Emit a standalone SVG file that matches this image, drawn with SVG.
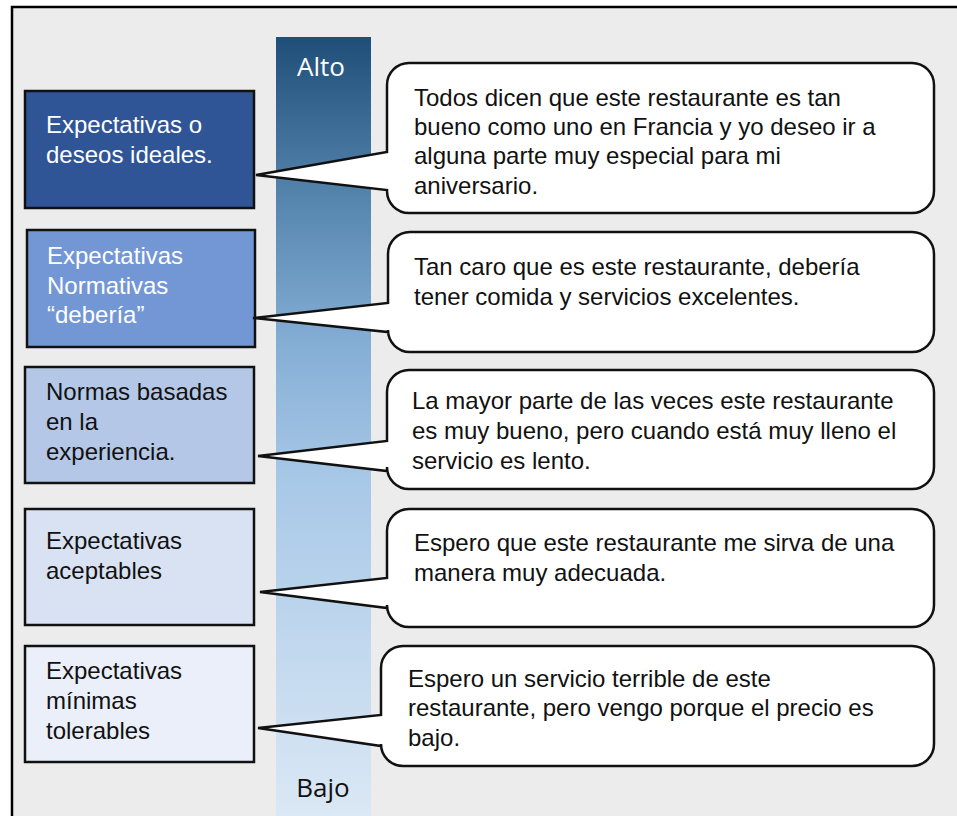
<svg xmlns="http://www.w3.org/2000/svg" width="957" height="816" viewBox="0 0 957 816">
<defs>
<linearGradient id="bar" x1="0" y1="0" x2="0" y2="1">
<stop offset="0" stop-color="#1f4e79"/>
<stop offset="0.21" stop-color="#5686ae"/>
<stop offset="0.4" stop-color="#86afd6"/>
<stop offset="0.57" stop-color="#a8c8e7"/>
<stop offset="1" stop-color="#dbe8f5"/>
</linearGradient>
<style>
.box{stroke:#111;stroke-width:2.5}
.call{fill:#fff;stroke:#111;stroke-width:2.5;stroke-linejoin:miter}
.t{font-family:"Liberation Sans",Arial,sans-serif;font-size:24px}
.w{fill:#fff}
.k{fill:#111}
.lvl{font-family:"Open Sans","Noto Sans",sans-serif;font-size:26px;text-anchor:middle;fill:#111}
</style>
</defs>
<rect x="12" y="7" width="960" height="830" fill="#ececec" stroke="#000" stroke-width="2.5"/>
<g id="scale">
<rect x="276" y="37" width="95" height="779" fill="url(#bar)"/>
<text class="lvl" x="321" y="76" style="fill:#fff">Alto</text>
<text class="lvl" x="323" y="797">Bajo</text>
</g>
<g id="n1"><rect class="box" x="25" y="91" width="229" height="117" fill="#2f5597"/>
<text class="t w"><tspan x="46" y="133">Expectativas o</tspan><tspan x="46" y="163">deseos ideales.</tspan></text></g>
<g id="n2"><rect class="box" x="27" y="230" width="228" height="117" fill="#7396d4"/>
<text class="t w"><tspan x="47" y="264">Expectativas</tspan><tspan x="47" y="294">Normativas</tspan><tspan x="47" y="323">“debería”</tspan></text></g>
<g id="n3"><rect class="box" x="25" y="367" width="229" height="116" fill="#b4c7e7"/>
<text class="t k"><tspan x="46" y="400">Normas basadas</tspan><tspan x="46" y="430">en la</tspan><tspan x="46" y="460">experiencia.</tspan></text></g>
<g id="n4"><rect class="box" x="25" y="509" width="229" height="116" fill="#d9e2f3"/>
<text class="t k"><tspan x="46" y="549">Expectativas</tspan><tspan x="46" y="579">aceptables</tspan></text></g>
<g id="n5"><rect class="box" x="25" y="646" width="229" height="116" fill="#eaeff9"/>
<text class="t k"><tspan x="46" y="679">Expectativas</tspan><tspan x="46" y="709">mínimas</tspan><tspan x="46" y="739">tolerables</tspan></text></g>
<g id="connectors">
<g id="c1"><path class="call" d="M409,63 H912 A22,22 0 0 1 934,85 V191 A22,22 0 0 1 912,213 H409 A22,22 0 0 1 387,191 V190 L256,175 L387,152 V85 A22,22 0 0 1 409,63 Z"/>
<text class="t k"><tspan x="414" y="106">Todos dicen que este restaurante es tan</tspan><tspan x="414" y="135">bueno como uno en Francia y yo deseo ir a</tspan><tspan x="414" y="164">alguna parte muy especial para mi</tspan><tspan x="414" y="194">aniversario.</tspan></text></g>
<g id="c2"><path class="call" d="M410,232 H912 A22,22 0 0 1 934,254 V330 A22,22 0 0 1 912,352 H410 A22,22 0 0 1 388,330 V332 L253,318 L388,303 V254 A22,22 0 0 1 410,232 Z"/>
<text class="t k"><tspan x="414" y="275">Tan caro que es este restaurante, debería</tspan><tspan x="414" y="305">tener comida y servicios excelentes.</tspan></text></g>
<g id="c3"><path class="call" d="M409,370 H912 A22,22 0 0 1 934,392 V467 A22,22 0 0 1 912,489 H409 A22,22 0 0 1 387,467 V471 L258,456 L387,441 V392 A22,22 0 0 1 409,370 Z"/>
<text class="t k"><tspan x="412" y="409">La mayor parte de las veces este restaurante</tspan><tspan x="412" y="439">es muy bueno, pero cuando está muy lleno el</tspan><tspan x="412" y="469">servicio es lento.</tspan></text></g>
<g id="c4"><path class="call" d="M409,509 H912 A22,22 0 0 1 934,531 V605 A22,22 0 0 1 912,627 H409 A22,22 0 0 1 387,605 V608 L260,592 L387,578 V531 A22,22 0 0 1 409,509 Z"/>
<text class="t k"><tspan x="414" y="551">Espero que este restaurante me sirva de una</tspan><tspan x="414" y="581">manera muy adecuada.</tspan></text></g>
<g id="c5"><path class="call" d="M403,646 H912 A22,22 0 0 1 934,668 V744 A22,22 0 0 1 912,766 H403 A22,22 0 0 1 381,744 V746 L258,728 L381,715 V668 A22,22 0 0 1 403,646 Z"/>
<text class="t k"><tspan x="408" y="687">Espero un servicio terrible de este</tspan><tspan x="408" y="716">restaurante, pero vengo porque el precio es</tspan><tspan x="408" y="746">bajo.</tspan></text></g>
</g>
</svg>
